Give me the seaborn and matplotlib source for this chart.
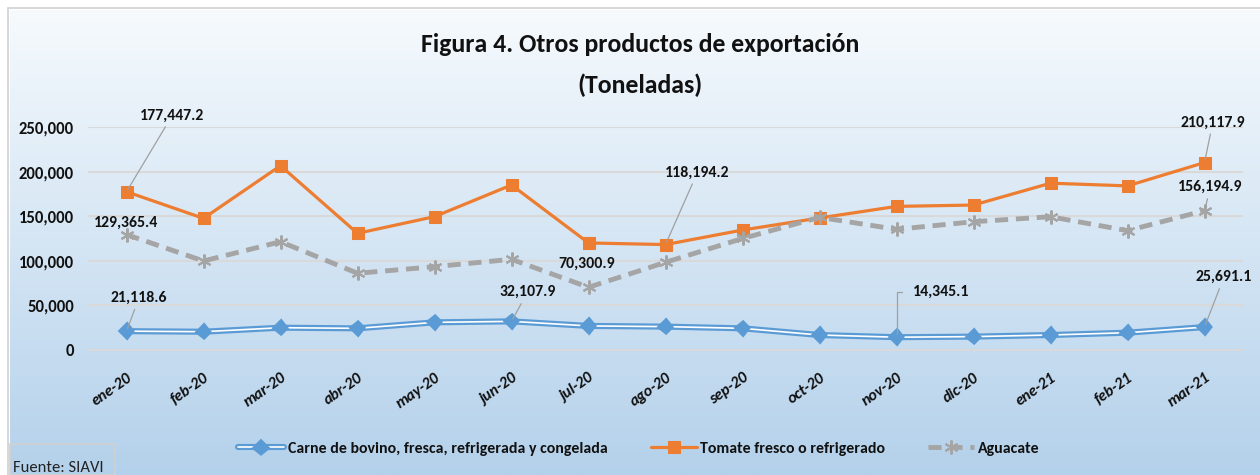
import numpy as np
import pandas as pd
import matplotlib
matplotlib.use("Agg")
import matplotlib.pyplot as plt
import matplotlib.patheffects as pe
import matplotlib.transforms as mtransforms
from matplotlib.patches import Rectangle
import seaborn as sns

# Data (toneladas)
meses = ["ene-20", "feb-20", "mar-20", "abr-20", "may-20", "jun-20", "jul-20", "ago-20",
         "sep-20", "oct-20", "nov-20", "dic-20", "ene-21", "feb-21", "mar-21"]
carne = [21118.6, 20500, 25000, 24300, 31000, 32107.9, 27000, 26200,
         24300, 16800, 14345.1, 15000, 16800, 19400, 25691.1]
tomate = [177447.2, 147600, 206600, 130800, 149500, 185000, 120000, 118194.2,
          134500, 148000, 161000, 162500, 187000, 184000, 210117.9]
aguacate = [129365.4, 99800, 121400, 86000, 93400, 101700, 70300.9, 98300,
            125000, 148700, 135300, 143800, 149400, 133800, 156194.9]

serie_carne = "Carne de bovino, fresca, refrigerada y congelada"
serie_tomate = "Tomate fresco o refrigerado"
serie_aguacate = "Aguacate"

azul = "#5B9BD5"
naranja = "#ED7D31"
gris = "#A5A5A5"
texto = "#111111"

sns.set_style("white")
plt.rcParams["font.family"] = ["Carlito", "Fira Sans Condensed", "Liberation Sans", "DejaVu Sans"]

df = pd.DataFrame({"x": np.arange(len(meses)), "carne": carne,
                   "tomate": tomate, "aguacate": aguacate})

fig = plt.figure(figsize=(12.6, 4.75), dpi=100)

# fondo degradado
bg = fig.add_axes([0, 0, 1, 1], zorder=-2)
grad = np.linspace(0, 1, 256).reshape(-1, 1)
top = np.array([246, 250, 253]) / 255
bot = np.array([180, 209, 235]) / 255
img = top + (bot - top) * grad[..., None]
bg.imshow(img, aspect="auto", extent=[10 / 1260, 1, 0, 1 - 10 / 475])
bg.set_xlim(0, 1)
bg.set_ylim(0, 1)
bg.axis("off")
fig.patches.append(Rectangle((8 / 1260, -0.01), 1, 1 - 8 / 475 + 0.01, transform=fig.transFigure,
                             fill=False, edgecolor="#d0d0d0", lw=1.2))

ax = fig.add_axes([88 / 1260, 1 - 350 / 475, 1155 / 1260, 223 / 475])
ax.set_facecolor("none")

sns.lineplot(data=df, x="x", y="carne", ax=ax, color="white", lw=1.2, marker="D", ms=4.8,
             mfc=azul, mec=azul, label=serie_carne, zorder=3,
             path_effects=[pe.Stroke(linewidth=4.4, foreground=azul), pe.Normal()])
sns.lineplot(data=df, x="x", y="tomate", ax=ax, color=naranja, lw=2.3, marker="s", ms=8,
             mfc=naranja, mec=naranja, label=serie_tomate, zorder=3)
sns.lineplot(data=df, x="x", y="aguacate", ax=ax, color=gris, lw=3.5, marker=(6, 2, 0), ms=10,
             mec=gris, mew=1.5, label=serie_aguacate, dashes=(2.7, 1.6), zorder=3)

ax.set_xlim(-0.5, len(meses) - 0.5)
ax.set_ylim(0, 250000)
ax.set_yticks(np.arange(0, 250001, 50000))
ax.yaxis.set_major_formatter(matplotlib.ticker.FuncFormatter(lambda v, p: f"{v:,.0f}"))
ax.grid(axis="y", color="#d9d9d9", lw=1.5)
ax.set_axisbelow(True)
ax.set_xlabel("")
ax.set_ylabel("")
for s in ["top", "right", "left"]:
    ax.spines[s].set_visible(False)
ax.spines["bottom"].set_color("#d9d9d9")
ax.spines["bottom"].set_linewidth(1.5)

ax.set_xticks(np.arange(len(meses)))
ax.set_xticklabels(meses, rotation=35, ha="right", rotation_mode="anchor",
                   fontsize=11.5, fontweight="bold", fontstyle="italic", color=texto)
shift = mtransforms.ScaledTranslation(0.07, 0, fig.dpi_scale_trans)
for t in ax.get_xticklabels():
    t.set_transform(t.get_transform() + shift)
ax.set_xticks(np.arange(-0.5, len(meses)), minor=True)
ax.tick_params(axis="x", which="major", length=0, pad=15)
ax.tick_params(axis="x", which="minor", length=5, color="#d9d9d9", width=1.5, direction="out")
ax.tick_params(axis="y", length=0, pad=10, labelsize=12)
for t in ax.get_yticklabels():
    t.set_fontweight("bold")
    t.set_color(texto)

# etiquetas de datos
lbl = dict(fontsize=11.3, fontweight="bold", color=texto, ha="center", va="center",
           textcoords="offset points", zorder=5)
linea = dict(arrowstyle="-", color="#a0a0a0", lw=0.9, shrinkA=1, shrinkB=2)
ax.annotate(f"{tomate[0]:,.1f}", (0, tomate[0]), xytext=(33, 55), arrowprops=linea, **lbl)
ax.annotate(f"{aguacate[0]:,.1f}", (0, aguacate[0]), xytext=(0, 8.5), **lbl)
ax.annotate(f"{carne[0]:,.1f}", (0, carne[0]), xytext=(9, 24), arrowprops=linea, **lbl)
ax.annotate(f"{carne[5]:,.1f}", (5, carne[5]), xytext=(11.5, 21), arrowprops=linea, **lbl)
ax.annotate(f"{aguacate[6]:,.1f}", (6, aguacate[6]), xytext=(-1.5, 17), **lbl)
ax.annotate(f"{tomate[7]:,.1f}", (7, tomate[7]), xytext=(23, 52), arrowprops=linea, **lbl)
ax.annotate(f"{carne[10]:,.1f}", (10, carne[10]), xytext=(32, 32.5), **lbl,
            arrowprops=dict(linea, relpos=(0, 0.5), shrinkA=5,
                            connectionstyle="angle,angleA=0,angleB=90,rad=0"))
ax.annotate(f"{tomate[14]:,.1f}", (14, tomate[14]), xytext=(6, 29), arrowprops=linea, **lbl)
ax.annotate(f"{aguacate[14]:,.1f}", (14, aguacate[14]), xytext=(4.3, 17), arrowprops=linea, **lbl)
ax.annotate(f"{carne[14]:,.1f}", (14, carne[14]), xytext=(14, 36), arrowprops=linea, **lbl)

fig.text(640 / 1260, 1 - 45 / 475, "Figura 4. Otros productos de exportación", ha="center",
         va="center", fontsize=18.5, fontweight="bold", color=texto)
fig.text(640 / 1260, 1 - 85 / 475, "(Toneladas)", ha="center", va="center",
         fontsize=18.5, fontweight="bold", color=texto)

ax.get_legend().remove()
h, l = ax.get_legend_handles_labels()
leg = fig.legend(h, l, loc="center", bbox_to_anchor=(639 / 1260, 1 - 449 / 475), ncol=3,
                 frameon=False, handlelength=2.9, columnspacing=2.7, handletextpad=0.25,
                 prop=dict(size=11.4, weight="bold"))
for t in leg.get_texts():
    t.set_color(texto)

fig.patches.append(Rectangle((10 / 1260, 0), 105 / 1260, 31 / 475, transform=fig.transFigure,
                             fill=False, edgecolor="#d0d0d0", lw=1.2))
fig.text(13 / 1260, 1 - 468 / 475, "Fuente: SIAVI", ha="left", va="center", fontsize=12,
         color="#222222")

fig.savefig("out.png", dpi=100)
